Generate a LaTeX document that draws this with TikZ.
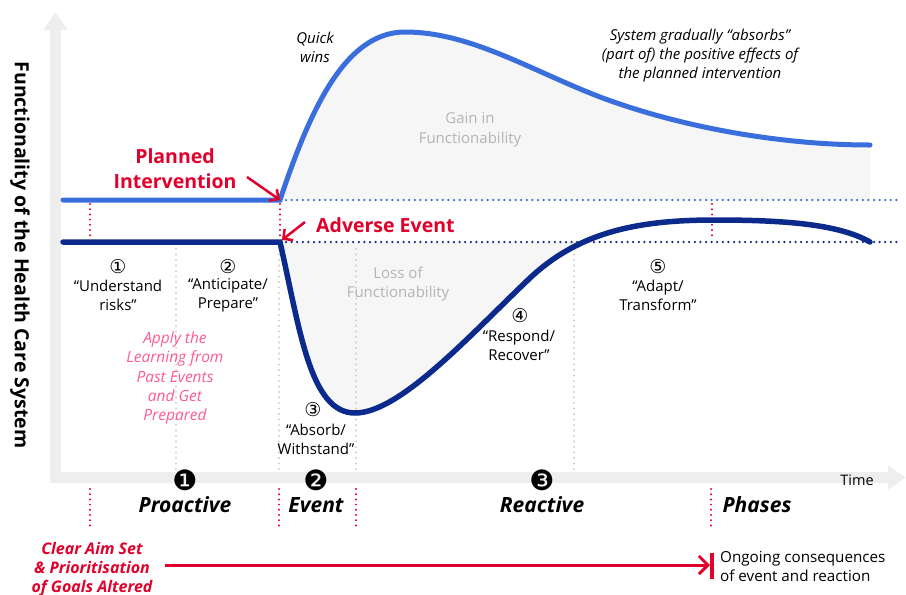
\documentclass[tikz,border=0pt]{standalone}
\usepackage{fontspec}
\setmainfont{Open Sans}
\newfontfamily\symf{DejaVu Sans}
\usetikzlibrary{arrows.meta}
\definecolor{lblue}{HTML}{3A6EDC}
\definecolor{navy}{HTML}{0B2A8C}
\definecolor{cred}{HTML}{E0002B}
\definecolor{cpink}{HTML}{FF5A96}
\definecolor{gtxt}{HTML}{B4B4B4}
\definecolor{fillg}{HTML}{F6F6F6}
\definecolor{axisg}{HTML}{EEEEEE}
\definecolor{dotg}{HTML}{CFCFCF}
\tikzset{
  axisline/.style={line width=11pt, color=axisg, -{Triangle[width=23pt,length=18pt]}},
  bluecurve/.style={line width=5pt, color=lblue, line cap=round},
  navycurve/.style={line width=5.5pt, color=navy, line cap=round},
  bluedots/.style={line width=2.5pt, color=lblue, dash pattern=on 0pt off 5.6pt, line cap=round},
  navydots/.style={line width=2.5pt, color=navy, dash pattern=on 0pt off 5.6pt, line cap=round},
  reddots/.style={line width=2.2pt, color=cred, dash pattern=on 0pt off 5.2pt, line cap=round},
  graydots/.style={line width=2.2pt, color=dotg, dash pattern=on 0pt off 5.5pt, line cap=round},
  redarrow/.style={line width=2.5pt, color=cred, -{Straight Barb[length=7pt,width=14pt,line width=2.5pt]}},
  bigredarrow/.style={line width=3pt, color=cred, -{Straight Barb[length=9pt,width=18pt,line width=3pt]}},
  txt/.style={align=center, font=\fontsize{15}{19}\selectfont, inner sep=0pt},
  graytxt/.style={align=center, font=\fontsize{15}{19.5}\selectfont, text=gtxt, inner sep=0pt},
  italtxt/.style={align=center, font=\fontsize{15}{19}\selectfont\itshape, inner sep=0pt},
  pinktxt/.style={align=center, font=\fontsize{15.5}{19.3}\selectfont\itshape, text=cpink, inner sep=0pt},
  redbold/.style={align=center, font=\fontsize{19.5}{25}\selectfont\bfseries, text=cred, inner sep=0pt},
  phase/.style={font=\fontsize{21}{24}\selectfont\bfseries\itshape, inner sep=0pt},
  circnum/.style={font=\symf\fontsize{19}{19}\selectfont, inner sep=0pt},
  blacknum/.style={font=\symf\fontsize{28}{28}\selectfont, inner sep=0pt},
}
\begin{document}
\begin{tikzpicture}[x=1pt,y=-1pt]
\useasboundingbox (0,0) rectangle (906,595);
% fills
\fill[fillg] (280,200) .. controls (310,110) and (345,32) .. (405,32)
  .. controls (470,32) and (530,70) .. (600,97)
  .. controls (680,127) and (780,145) .. (870,145) -- (870,200) -- cycle;
\begin{scope}
\clip (0,242) rectangle (906,480);
\fill[fillg] (280,242) .. controls (300,330) and (310,413) .. (355,413)
  .. controls (400,413) and (470,335) .. (530,278)
  .. controls (580,231) and (640,220) .. (715,220) -- cycle;
\end{scope}
% axes
\draw[axisline] (55.5,483) -- (55.5,12);
\draw[axisline] (50,477.5) -- (906,477.5);
% gray dotted verticals
\draw[graydots] (176,249) -- (176,470);
\draw[graydots] (279,249) -- (279,470);
\draw[graydots] (356,249) -- (356,470);
\draw[graydots] (574,249) -- (574,470);
% dotted baselines
\draw[bluedots] (286,200) -- (900,200);
\draw[navydots] (286,242) -- (900,242);
% red dotted
\draw[reddots] (90,204) -- (90,238);
\draw[reddots] (280,204) -- (280,238);
\draw[reddots] (712,204) -- (712,238);
\draw[reddots] (90,489) -- (90,527);
\draw[reddots] (279,489) -- (279,527);
\draw[reddots] (356,489) -- (356,527);
\draw[reddots] (711,489) -- (711,527);
% curves
\coordinate (pi) at (280,200);
\coordinate (ae) at (280,242);
\draw[bluecurve] (63,200) -- (pi) .. controls (310,110) and (345,32) .. (405,32)
  .. controls (470,32) and (530,70) .. (600,97)
  .. controls (680,127) and (780,145) .. (870,145);
\draw[navycurve] (63,242) -- (ae) .. controls (300,330) and (310,413) .. (355,413)
  .. controls (400,413) and (470,335) .. (530,278)
  .. controls (580,231) and (640,220) .. (715,220)
  .. controls (790,220) and (840,225) .. (870,242);
% y label
\node[rotate=-90, font=\fontsize{19.5}{20}\selectfont\bfseries, inner sep=0pt] (ylab) at (20,255) {Functionality of the Health Care System};
% labels
\node[redbold] (plan) at (175,169) {Planned\\Intervention};
\node[redbold, anchor=west] (adv) at (316,225) {Adverse Event};
\coordinate (pis) at (247,177);
\coordinate (aes) at (305,222);
\draw[redarrow] (pis) -- (pi);
\draw[redarrow] (aes) -- (282,240);
\node[italtxt] (quick) at (315,47) {Quick\\wins};
\node[italtxt] (absorbs) at (700,56) {System gradually “absorbs”\\(part of) the positive effects of\\the planned intervention};
\node[graytxt] (gain) at (470,130) {Gain in\\Functionability};
\node[graytxt] (loss) at (398,284) {Loss of\\Functionability};
% numbered items
\node[circnum] (c1) at (118,267) {①};
\node[txt] (t1) at (118,295) {“Understand\\risks”};
\node[circnum] (c2) at (228,267) {②};
\node[txt] (t2) at (228,295) {“Anticipate/\\Prepare”};
\node[circnum] (c3) at (313,410) {③};
\node[txt] (t3) at (316,439) {“Absorb/\\Withstand”};
\node[circnum] (c4) at (520,316) {④};
\node[txt] (t4) at (519,345) {“Respond/\\Recover”};
\node[circnum] (c5) at (658,267) {⑤};
\node[txt] (t5) at (658,295) {“Adapt/\\Transform”};
\node[pinktxt] (apply) at (175,378) {Apply the\\Learning from\\Past Events\\and Get\\Prepared};
% phases
\node[blacknum] (n1) at (185,480) {❶};
\node[blacknum] (n2) at (316,480) {❷};
\node[blacknum] (n3) at (542,480) {❸};
\node[phase] (p1) at (185,505) {Proactive};
\node[phase] (p2) at (316,505) {Event};
\node[phase] (p3) at (542,505) {Reactive};
\node[phase] (p4) at (757,505) {Phases};
\node[font=\fontsize{14.5}{16}\selectfont, inner sep=0pt] (time) at (857,480) {Time};
% bottom
\node[align=center, font=\fontsize{16}{19}\selectfont\bfseries\itshape, text=cred, inner sep=0pt] (aim) at (92,569) {Clear Aim Set\\\& Prioritisation\\of Goals Altered};
\coordinate (arS) at (165,565);
\coordinate (arE) at (710,565);
\draw[bigredarrow] (arS) -- (arE);
\draw[line width=3.2pt, cred] (712,553) -- (712,579);
\node[align=left, anchor=west, font=\fontsize{15.2}{19}\selectfont, inner sep=0pt] (ongo) at (720,566) {Ongoing consequences\\of event and reaction};
\end{tikzpicture}
\end{document}
